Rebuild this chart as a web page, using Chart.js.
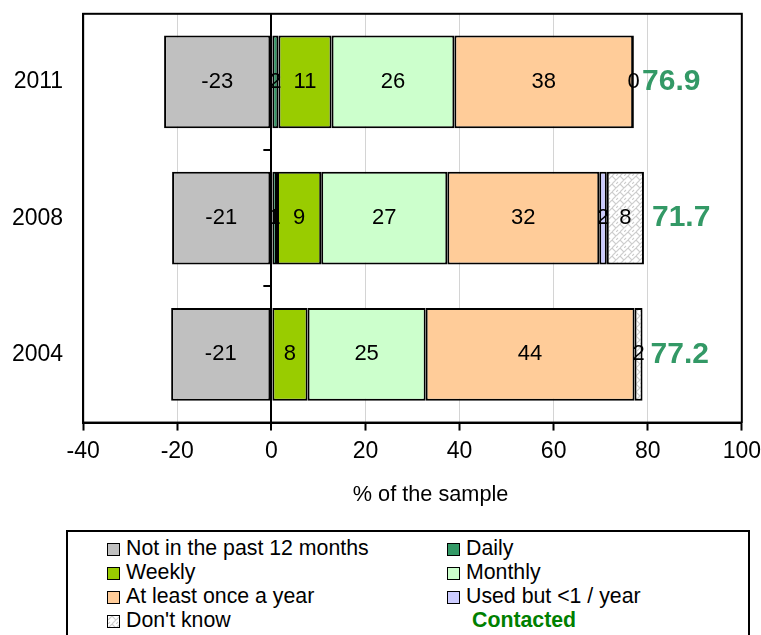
<!DOCTYPE html>
<html>
<head>
<meta charset="utf-8">
<script src="https://cdn.jsdelivr.net/npm/chart.js@4/dist/chart.umd.min.js"></script>
<style>
body{margin:0;background:#fff;font-family:"Liberation Sans",Arial,sans-serif}
#wrap{position:relative;width:761px;height:635px;overflow:hidden}
#chart{position:absolute;left:0;top:0}
#legend{position:absolute;left:66px;top:530px;width:684px;height:120px;border:2px solid #000;box-sizing:border-box}
.item{position:absolute;font-size:21.3px;line-height:24px;color:#000;white-space:nowrap}
.sw{display:inline-block;width:11px;height:11px;border:1.5px solid #000;margin-right:6px;vertical-align:-1px}
</style>
</head>
<body>
<div id="wrap">
<canvas id="chart" width="761" height="522"></canvas>
<div id="legend"></div>
</div>
<script>
let years=["2011","2008","2004"]

let notPast12=[-22.8,-21.1,-21.3]
let daily=[1.5,1.2,null]
let weekly=[11.3,9.4,7.7]
let monthly=[26.1,26.8,25.1]
let yearly=[38.0,32.3,44.4]
let usedRarely=[0.2,1.6,null]
let dontKnow=[null,7.9,1.7]

let contacted=[76.9,71.7,77.2]

let xTicks=[-40,-20,0,20,40,60,80,100]


// weave-ish hatch for "Don't know"
function makeHatch(){
let c=document.createElement("canvas")
c.width=8
c.height=8
let g=c.getContext("2d")
g.fillStyle="#fff"
g.fillRect(0,0,8,8)
g.strokeStyle="#cdcdcd"
g.lineWidth=1.1
g.beginPath()
g.moveTo(0,4);g.lineTo(4,0)
g.moveTo(4,8);g.lineTo(8,4)
g.moveTo(4,0);g.lineTo(8,4)
g.moveTo(0,8);g.lineTo(2,6)
g.stroke()
return c
}

let hatchCanvas=makeHatch()
let hatch=document.getElementById("chart").getContext("2d").createPattern(hatchCanvas,"repeat")

let series=[
{name:"Not in the past 12 months",data:notPast12,color:"#c0c0c0"},
{name:"Daily",data:daily,color:"#339966"},
{name:"Weekly",data:weekly,color:"#99cc00"},
{name:"Monthly",data:monthly,color:"#ccffcc"},
{name:"At least once a year",data:yearly,color:"#ffcc99"},
{name:"Used but <1 / year",data:usedRarely,color:"#ccccff"},
{name:"Don't know",data:dontKnow,color:hatch}
]


/* labels inside segments + contacted totals */
let labelPlugin={
id:"segLabels",
afterDatasetsDraw(chart){
let ctx=chart.ctx
ctx.save()
ctx.textBaseline="middle"
ctx.textAlign="center"
ctx.fillStyle="#000"
ctx.font="22px 'Liberation Sans', Arial"
chart.data.datasets.forEach((ds,i)=>{
let meta=chart.getDatasetMeta(i)
meta.data.forEach((bar,j)=>{
let v=ds.data[j]
if(v===null)return
let cx=(bar.x+bar.base)/2
ctx.fillText(String(Math.round(v)),cx,bar.y)
})
})

let xs=chart.scales.x
let ys=chart.scales.y
ctx.textAlign="left"
ctx.fillStyle="#339966"
ctx.font="bold 30px 'Liberation Sans', Arial"
contacted.forEach((c,j)=>{
let end=0
series.forEach(s=>{ if(s.data[j]>0) end+=s.data[j] })
ctx.fillText(c.toFixed(1),xs.getPixelForValue(end)+8,ys.getPixelForValue(j))
})
ctx.restore()
}
}

// plot frame and the small category marks on the zero axis
let framePlugin={
id:"frame",
afterDraw(chart){
let a=chart.chartArea
let ctx=chart.ctx
let xs=chart.scales.x
let ys=chart.scales.y
ctx.save()
ctx.strokeStyle="#000"
ctx.lineWidth=2
ctx.strokeRect(a.left,a.top,a.right-a.left,a.bottom-a.top)
let x0=xs.getPixelForValue(0)
ctx.beginPath()
for(let i=0;i<years.length-1;i++){
let yb=Math.round((ys.getPixelForValue(i)+ys.getPixelForValue(i+1))/2)
ctx.moveTo(x0-8,yb)
ctx.lineTo(x0,yb)
}
ctx.stroke()
ctx.restore()
}
}


let chart=new Chart(document.getElementById("chart"),{

type:"bar",

data:{
labels:years,
datasets:series.map(s=>({
label:s.name,
data:s.data,
backgroundColor:s.color,
borderColor:"#000",
borderWidth:2,
borderSkipped:false,
barPercentage:0.68,
categoryPercentage:1
}))
},

options:{
indexAxis:"y",
responsive:false,
animation:false,
layout:{padding:{left:12,right:18,top:13,bottom:10}},
plugins:{legend:{display:false},tooltip:{enabled:false}},
scales:{
y:{
stacked:true,
position:"left",
grid:{display:true,drawOnChartArea:false,drawTicks:true,tickLength:20,tickColor:"rgba(0,0,0,0)"},
border:{display:true,color:"#000",width:2},
ticks:{color:"#000",padding:0,font:{family:"'Liberation Sans', Arial",size:23}}
},
x:{
stacked:true,
min:-40,
max:100,
afterBuildTicks(axis){ axis.ticks=xTicks.map(v=>({value:v})) },
grid:{
color:c=>c.tick&&c.tick.value===0?"#000":"#d4d4d4",
lineWidth:c=>c.tick&&c.tick.value===0?2:1,
tickColor:"#000",
tickWidth:2,
tickLength:8
},
border:{display:true,color:"#000",width:2},
ticks:{color:"#000",padding:0,font:{family:"'Liberation Sans', Arial",size:23,lineHeight:1.8}},
// leading spaces nudge the title right, as in the original
title:{display:true,text:"      % of the sample",color:"#000",padding:{top:10,bottom:4},font:{family:"'Liberation Sans', Arial",size:21.7}}
}
}
},

plugins:[labelPlugin,framePlugin]

})


/* legend, two columns */
let legend=document.getElementById("legend")
let hatchUrl=hatchCanvas.toDataURL()
let cols=[39,379]
series.forEach((s,i)=>{
let item=document.createElement("div")
item.className="item"
item.style.left=cols[i%2]+"px"
item.style.top=(4+Math.floor(i/2)*24)+"px"
let sw=document.createElement("span")
sw.className="sw"
if(typeof s.color==="string") sw.style.background=s.color
else sw.style.background="url("+hatchUrl+")"
item.appendChild(sw)
item.appendChild(document.createTextNode(s.name))
legend.appendChild(item)
})

let extra=document.createElement("div")
extra.className="item"
extra.style.left=(cols[1]+25)+"px"
extra.style.top=(4+3*24)+"px"
extra.style.fontWeight="bold"
extra.style.color="#008000"
extra.innerText="Contacted"
legend.appendChild(extra)
</script>
</body>
</html>
